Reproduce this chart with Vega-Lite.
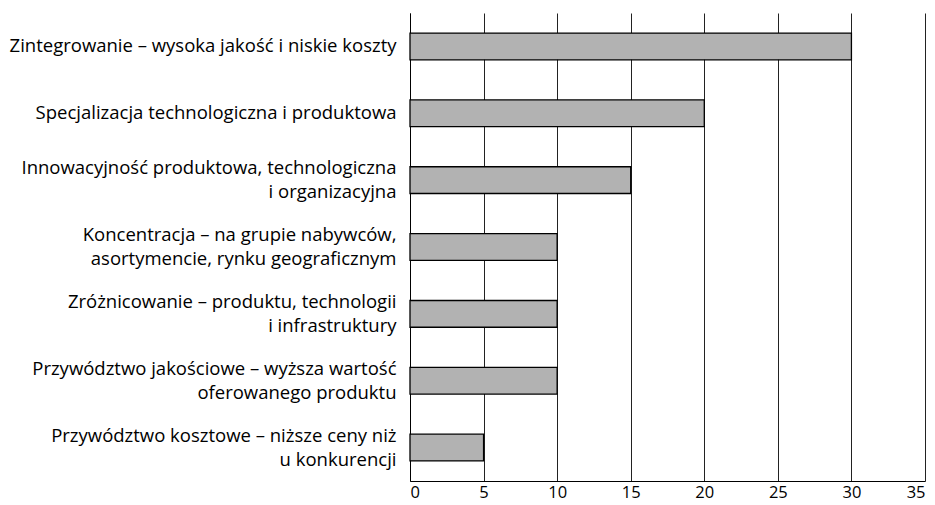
{
  "$schema": "https://vega.github.io/schema/vega-lite/v6.json",
  "width": 515,
  "height": 468,
  "autosize": {"type": "none"},
  "padding": {"left": 410, "top": 13, "right": 10, "bottom": 24},
  "background": "white",
  "config": {"view": {"stroke": null}, "font": "Open Sans"},
  "data": {"values": [
    {"category": "Zintegrowanie – wysoka jakość i niskie koszty", "value": 30, "order": 1},
    {"category": "Specjalizacja technologiczna i produktowa", "value": 20, "order": 2},
    {"category": "Innowacyjność produktowa, technologiczna|i organizacyjna", "value": 15, "order": 3},
    {"category": "Koncentracja – na grupie nabywców,|asortymencie, rynku geograficznym", "value": 10, "order": 4},
    {"category": "Zróżnicowanie – produktu, technologii|i infrastruktury", "value": 10, "order": 5},
    {"category": "Przywództwo jakościowe – wyższa wartość|oferowanego produktu", "value": 10, "order": 6},
    {"category": "Przywództwo kosztowe – niższe ceny niż|u konkurencji", "value": 5, "order": 7}
  ]},
  "mark": {"type": "bar", "fill": "#b2b2b2", "stroke": "#000000", "strokeWidth": 1.3},
  "encoding": {
    "y": {
      "field": "category", "type": "nominal",
      "sort": {"field": "order", "order": "ascending"},
      "scale": {"paddingInner": 0.6, "paddingOuter": 0.3},
      "axis": {
        "title": null, "ticks": false, "domain": true, "domainColor": "#000000", "domainWidth": 1,
        "labelExpr": "split(datum.value, '|')",
        "labelOffset": {"condition": {"test": "indexof(datum.value, '|') >= 0", "value": -12}, "value": 0},
        "labelFontSize": 18.5, "labelColor": "#000000", "labelPadding": 14,
        "labelLineHeight": 24, "labelLimit": 420, "grid": false
      }
    },
    "x": {
      "field": "value", "type": "quantitative",
      "scale": {"domain": [0, 35]},
      "axis": {
        "title": null, "ticks": false, "values": [0, 5, 10, 15, 20, 25, 30, 35],
        "grid": true, "gridColor": "#222222", "gridWidth": 1, "gridOpacity": 1,
        "domain": true, "domainColor": "#000000", "domainWidth": 1,
        "labelFontSize": 16.5, "labelColor": "#000000", "labelPadding": 3
      }
    }
  }
}
